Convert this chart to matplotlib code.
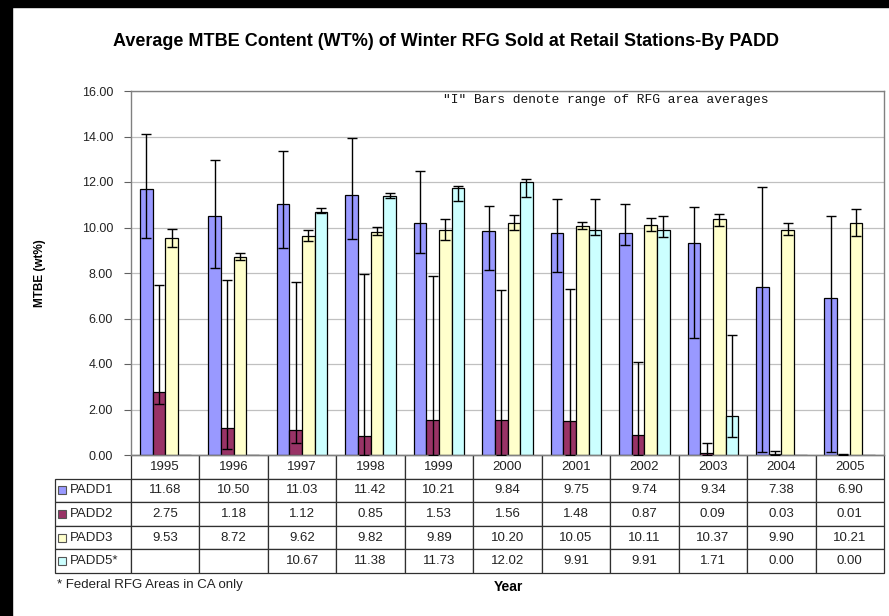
import numpy as np
import matplotlib
matplotlib.use("Agg")
import matplotlib.pyplot as plt
from matplotlib.patches import Rectangle
from matplotlib.ticker import FormatStrFormatter, MultipleLocator

plt.rcParams["font.family"] = ["Liberation Sans", "DejaVu Sans"]

YEARS = ["1995", "1996", "1997", "1998", "1999", "2000", "2001", "2002", "2003", "2004", "2005"]
SERIES = ["PADD1", "PADD2", "PADD3", "PADD5*"]
COLORS = ["#9999FF", "#993366", "#FFFFCC", "#CCFFFF"]

padd1 = [11.68, 10.50, 11.03, 11.42, 10.21, 9.84, 9.75, 9.74, 9.34, 7.38, 6.90]
padd2 = [2.75, 1.18, 1.12, 0.85, 1.53, 1.56, 1.48, 0.87, 0.09, 0.03, 0.01]
padd3 = [9.53, 8.72, 9.62, 9.82, 9.89, 10.20, 10.05, 10.11, 10.37, 9.90, 10.21]
padd5 = [np.nan, np.nan, 10.67, 11.38, 11.73, 12.02, 9.91, 9.91, 1.71, 0.00, 0.00]

# range of RFG area averages ("I" bars)
padd1_hi = [14.10, 12.95, 13.35, 13.95, 12.48, 10.96, 11.25, 11.02, 10.89, 11.78, 10.52]
padd1_lo = [9.55, 8.20, 9.11, 9.49, 8.86, 8.12, 8.03, 9.23, 5.16, 0.12, 0.12]
padd2_hi = [7.47, 7.69, 7.59, 7.96, 7.85, 7.25, 7.31, 4.10, 0.51, 0.19, 0.05]
padd2_lo = [2.24, 0.25, 0.51, 0.00, 0.00, 0.00, 0.00, 0.00, 0.00, 0.00, 0.00]
padd3_hi = [9.93, 8.89, 9.89, 10.02, 10.36, 10.53, 10.23, 10.40, 10.61, 10.21, 10.80]
padd3_lo = [9.16, 8.56, 9.41, 9.66, 9.45, 9.89, 9.93, 9.86, 10.08, 9.66, 9.64]
padd5_hi = [np.nan, np.nan, 10.87, 11.53, 11.82, 12.13, 11.25, 10.52, 5.27, np.nan, np.nan]
padd5_lo = [np.nan, np.nan, 10.62, 11.28, 11.15, 11.36, 9.69, 9.60, 0.81, np.nan, np.nan]

values = [padd1, padd2, padd3, padd5]
highs = [padd1_hi, padd2_hi, padd3_hi, padd5_hi]
lows = [padd1_lo, padd2_lo, padd3_lo, padd5_lo]

W, H = 889, 616
fig = plt.figure(figsize=(W / 100, H / 100), dpi=100)
fig.patch.set_facecolor("white")
ax = fig.add_axes([131 / W, 1 - 455 / H, 753 / W, 364 / H])

x = np.arange(len(YEARS))
bw = 0.1847
for i, (vals, hi, lo, col) in enumerate(zip(values, highs, lows, COLORS)):
    v = np.array(vals, dtype=float)
    pos = x + (i - 1.5) * bw
    ax.bar(pos, np.nan_to_num(v), bw, color=col, edgecolor="black", linewidth=0.9, zorder=2)
    yerr = [v - np.array(lo), np.array(hi) - v]
    ax.errorbar(pos, v, yerr=yerr, fmt="none", ecolor="black", elinewidth=1.0,
                capsize=3.5, capthick=1.0, zorder=3)

ax.set_xlim(-0.5, len(YEARS) - 0.5)
ax.set_ylim(0, 16)
ax.yaxis.set_major_locator(MultipleLocator(2))
ax.yaxis.set_major_formatter(FormatStrFormatter("%.2f"))
ax.yaxis.grid(True, color="#c0c0c0", linewidth=0.9, zorder=0)
ax.set_axisbelow(True)
ax.set_xticks([])
ax.tick_params(axis="y", length=5, color="#606060", labelsize=9, labelcolor="#222222", pad=8)
for s in ax.spines.values():
    s.set_color("#808080")
    s.set_linewidth(1.0)

ax.text(0.414, 0.975, '"I" Bars denote range of RFG area averages', transform=ax.transAxes,
        family="Liberation Mono", fontsize=9.3, ha="left", va="center", color="#111111")

# data table under the plot
label_w = 76 / 753
cells = []
for name, vals in zip(SERIES, values):
    cells.append([name] + ["" if np.isnan(v) else f"{v:.2f}" for v in vals])
tb_h = 118 / 364
tbl = ax.table(cellText=cells, colLabels=[""] + YEARS,
               colWidths=[label_w] + [1 / len(YEARS)] * len(YEARS),
               cellLoc="center", bbox=[-label_w, -tb_h, 1 + label_w, tb_h])
tbl.auto_set_font_size(False)
tbl.set_fontsize(9.5)
for (r, c), cell in tbl.get_celld().items():
    cell.set_edgecolor("#303030")
    cell.set_linewidth(0.9)
    cell.get_text().set_color("#222222")
    if r == 0 and c == 0:
        cell.visible_edges = ""
    elif c == 0:
        cell.get_text().set_ha("left")
        cell.PAD = 0.2
nrows = len(SERIES) + 1
for i, col in enumerate(COLORS):
    yc = -tb_h + tb_h * (1 - (i + 1.5) / nrows)
    ax.plot([-label_w + 0.0095], [yc], marker="s", markersize=6, color=col,
            markeredgecolor="#555555", markeredgewidth=0.8,
            transform=ax.transAxes, clip_on=False)

fig.text(446 / W, 1 - 42 / H,
         "Average MTBE Content (WT%) of Winter RFG Sold at Retail Stations-By PADD",
         ha="center", va="center", fontsize=13, weight="bold")
fig.text(40 / W, 1 - 273 / H, "MTBE (wt%)", rotation=90, ha="center", va="center",
         fontsize=8.5, weight="bold")
fig.text(508 / W, 1 - 587 / H, "Year", ha="center", va="center", fontsize=10, weight="bold")
fig.text(57 / W, 1 - 585 / H, "* Federal RFG Areas in CA only", ha="left", va="center",
         fontsize=9.5, color="#222222")

# black frame strips of the original screenshot
fig.patches.append(Rectangle((0, 0), 12 / W, 1, transform=fig.transFigure,
                             color="black", zorder=10))
fig.patches.append(Rectangle((0, 1 - 7 / H), 1, 7 / H, transform=fig.transFigure,
                             color="black", zorder=10))

fig.savefig("out.png", dpi=100)
